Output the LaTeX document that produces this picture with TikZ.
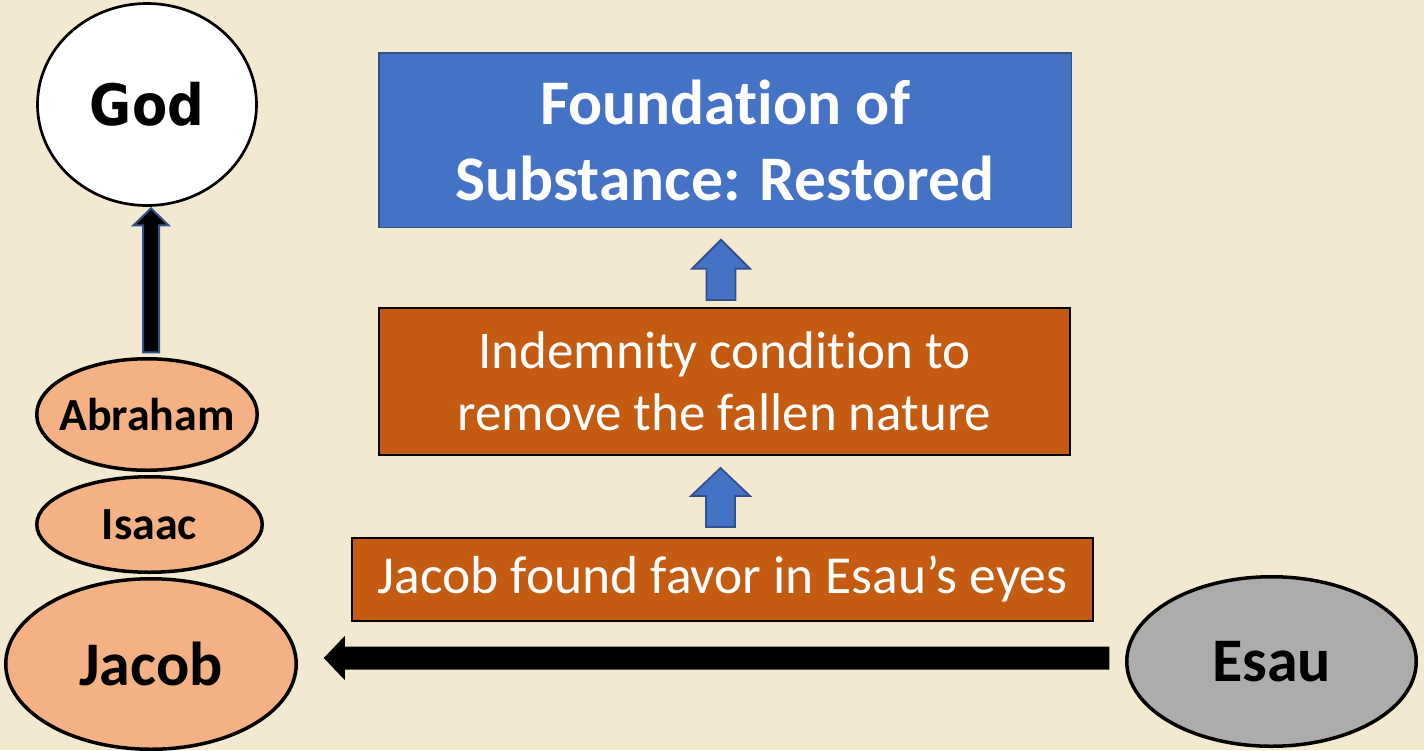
\documentclass[tikz,border=0pt]{standalone}
\usepackage{fontspec}
\setmainfont{Carlito}[Ligatures={NoCommon}]
\newfontfamily\godfont[FakeStretch=0.9]{DejaVu Sans}
\usetikzlibrary{shapes.geometric,calc}
\definecolor{bg}{HTML}{F3E9D0}
\definecolor{blueA}{HTML}{4472C4}
\definecolor{blueB}{HTML}{2F528F}
\definecolor{orangeA}{HTML}{C55A11}
\definecolor{peach}{HTML}{F4B183}
\definecolor{greyA}{HTML}{AEABAB}
% vertical block arrow: style, base point, tip point, shaft half, head half, head length
\newcommand\vblk[6]{%
\path[#1] let \p1=#2, \p2=#3 in (\x2-#4,\y1) -- (\x2-#4,\y2-#6) -- (\x2-#5,\y2-#6) -- (\x2,\y2) -- (\x2+#5,\y2-#6) -- (\x2+#4,\y2-#6) -- (\x2+#4,\y1) -- cycle;}
% horizontal block arrow pointing left
\newcommand\hblk[6]{%
\path[#1] let \p1=#2, \p2=#3 in (\x1,\y2-#4) -- (\x2+#6,\y2-#4) -- (\x2+#6,\y2-#5) -- (\x2,\y2) -- (\x2+#6,\y2+#5) -- (\x2+#6,\y2+#4) -- (\x1,\y2+#4) -- cycle;}
\begin{document}
\begin{tikzpicture}[x=1pt,y=-1pt,
  oval/.style={ellipse, draw=black, line width=3.5pt, inner sep=0pt, font=\bfseries},
  box/.style={rectangle, inner sep=0pt, align=center, text=white},
  bluearrow/.style={fill=blueA, draw=blueB, line width=1.8pt, line join=miter},
  godarrow/.style={fill=black, draw=blueB, line width=2pt, line join=miter},
  blackarrow/.style={fill=black}
]
\fill[bg] (0,0) rectangle (1424,750);
\useasboundingbox (0,0) rectangle (1424,750);

\node[oval, fill=white, line width=2.7pt, minimum width=219pt, minimum height=202pt,
  font=\godfont\bfseries\fontsize{57}{60}\selectfont] (god) at (147,104.5) {\makebox[0pt]{God}};
\node[oval, fill=peach, minimum width=220.5pt, minimum height=111.5pt,
  font=\bfseries\fontsize{46}{50}\selectfont] (abraham) at (147,414.5) {\makebox[0pt]{Abraham}};
\node[oval, fill=peach, minimum width=225.5pt, minimum height=95.5pt,
  font=\bfseries\fontsize{46}{50}\selectfont] (isaac) at (149.5,524.5) {\makebox[0pt]{Isaac}};
\node[oval, fill=peach, minimum width=290.5pt, minimum height=170.5pt,
  font=\bfseries\fontsize{62}{66}\selectfont] (jacob) at (151,664) {\makebox[0pt]{Jacob}};
\node[oval, fill=greyA, minimum width=289.5pt, minimum height=169.5pt,
  font=\bfseries\fontsize{62}{66}\selectfont] (esau) at (1271.5,661.5) {\makebox[0pt]{Esau}};

\node[box, fill=blueA, draw=blueB, line width=1.5pt, minimum width=692.5pt, minimum height=174.5pt,
  font=\bfseries\fontsize{63.5}{76}\selectfont] (top) at (725,140) {Foundation of\\Substance: Restored};
\node[box, fill=orangeA, draw=black, line width=2pt, minimum width=691pt, minimum height=147pt,
  font=\fontsize{53}{62}\selectfont] (ind) at (724.5,381.5) {Indemnity condition to\\remove the fallen nature};
\node[box, fill=orangeA, draw=black, line width=2pt, minimum width=741pt, minimum height=83pt,
  font=\fontsize{53.5}{62}\selectfont] (favor) at (722.5,579) {Jacob found favor in Esau’s eyes};

\vblk{godarrow}{([yshift=4.75pt]abraham.north)}{([xshift=4pt,yshift=-1.5pt]god.south)}{8pt}{17.5pt}{17pt}
\vblk{bluearrow}{([yshift=7pt]ind.north)}{([xshift=-4pt,yshift=-11.75pt]top.south)}{14.5pt}{29pt}{29pt}
\vblk{bluearrow}{([yshift=9.5pt]favor.north)}{([xshift=-4pt,yshift=-12pt]ind.south)}{14.5pt}{29.5pt}{28pt}
\hblk{blackarrow}{([xshift=-15.75pt]esau.west)}{([xshift=25.75pt,yshift=6pt]jacob.east)}{11.5pt}{22pt}{21pt}
\end{tikzpicture}
\end{document}
